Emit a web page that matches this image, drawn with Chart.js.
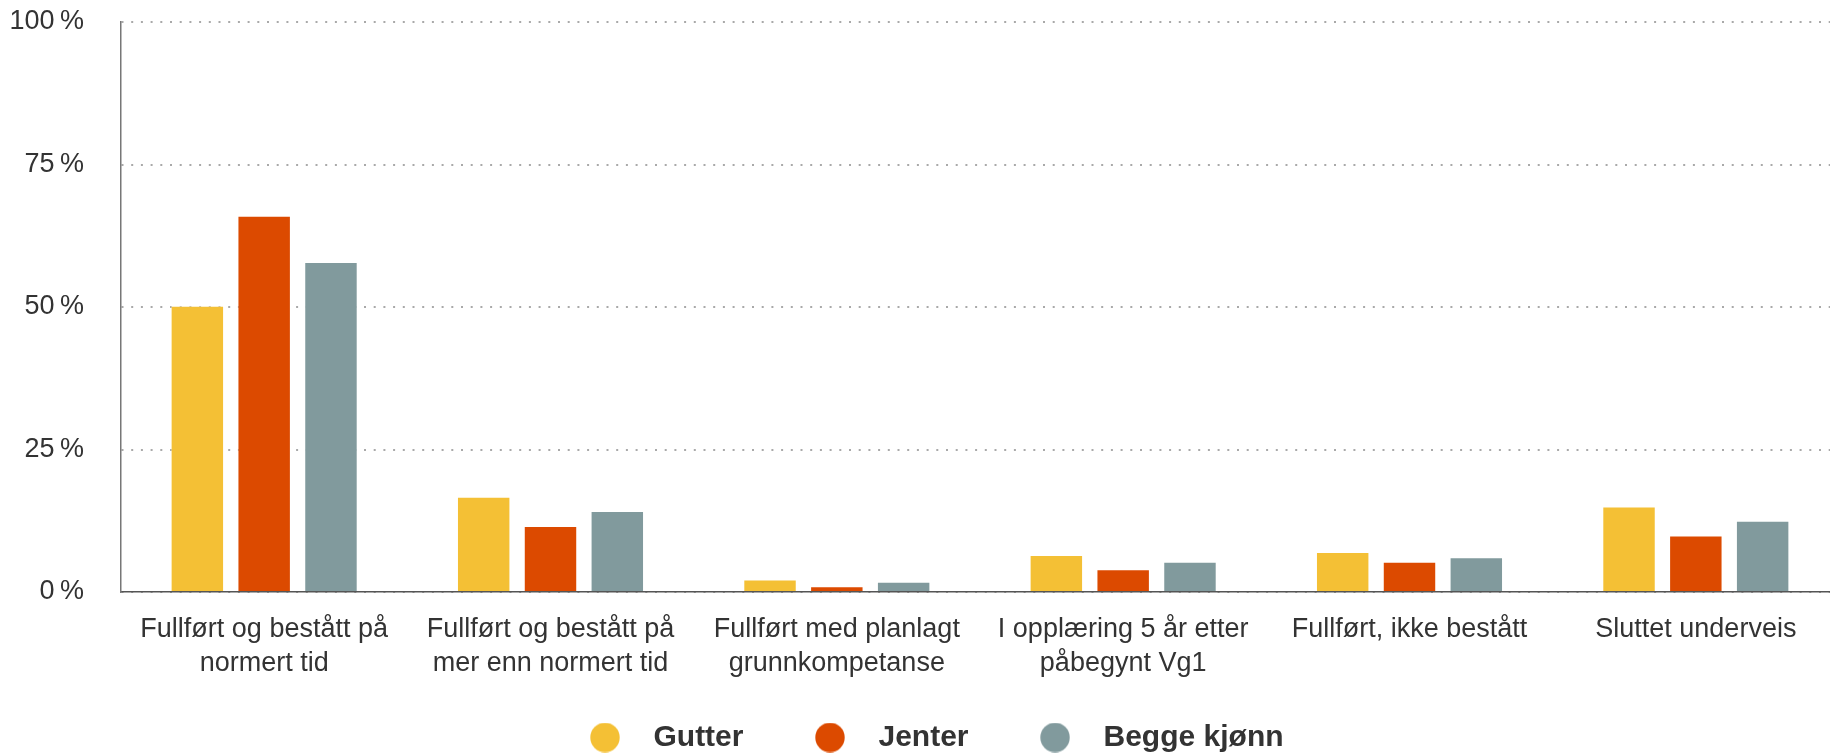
<!DOCTYPE html>
<html lang="no">
<head>
<meta charset="utf-8">
<script src="https://cdn.jsdelivr.net/npm/chart.js@4"></script>
<style>
html,body{margin:0;padding:0;background:#fff;overflow:hidden;}
#wrap{width:1854px;height:755px;position:relative;}
</style>
</head>
<body>
<div id="wrap"><canvas id="grafico"></canvas></div>
<script>
// Data
const kategorier=[["Fullført og bestått på","normert tid"],["Fullført og bestått på","mer enn normert tid"],["Fullført med planlagt","grunnkompetanse"],["I opplæring 5 år etter","påbegynt Vg1"],"Fullført, ikke bestått","Sluttet underveis"];
const gutter=[50.2,16.7,2.2,6.5,7.0,15.0];
const jenter=[66.0,11.6,1.0,4.0,5.3,9.9];
const beggeKjonn=[57.9,14.2,1.8,5.3,6.1,12.5];
const yTicks=[0,25,50,75,100];
const serieNavn=["Gutter","Jenter","Begge kjønn"];
const farger=["#f4c035","#dc4a00","#819a9d"];

// Runde legend-ikoner
function sirkel(farge){
  const c=document.createElement("canvas");
  c.width=30;c.height=30;
  const g=c.getContext("2d");
  g.fillStyle=farge;g.beginPath();g.arc(15,15,14.7,0,Math.PI*2);g.fill();
  return c;
}
const sirkler=farger.map(sirkel);

// Legenden: fast høyde i layout, flyttes litt etterpå
const legendPlass={id:"legendPlass",
  beforeLayout(chart){
    const lg=chart.legend;
    if(lg&&!lg._fast){const fit=lg.fit;lg.fit=function(){fit.call(this);this.height=67;};lg._fast=true;}
  },
  afterLayout(chart){
    const lg=chart.legend;
    lg.top=669.5;lg.height=85.5;lg.bottom=755;
    lg.left+=8;lg.right+=8;
  }
};

Chart.defaults.font.family="'Liberation Sans', Arial, Helvetica, sans-serif";
Chart.defaults.color="#333";

const datasets=[gutter,jenter,beggeKjonn].map((data,i)=>({
  label:serieNavn[i],data,backgroundColor:farger[i],
  borderColor:"rgba(255,255,255,0.45)",borderWidth:{top:1,left:1,right:1,bottom:0},borderSkipped:false,
  categoryPercentage:0.7,barPercentage:0.8
}));

new Chart(document.getElementById("grafico"),{
  type:"bar",
  data:{labels:kategorier,datasets},
  plugins:[legendPlass],
  options:{
    responsive:true,maintainAspectRatio:false,animation:false,
    layout:{padding:{top:22,right:15,left:0,bottom:0}},
    plugins:{
      tooltip:{enabled:false},
      legend:{position:"bottom",labels:{
        usePointStyle:true,pointStyleWidth:67,padding:53,color:"#333",
        font:{size:30,weight:"bold",lineHeight:1},
        generateLabels(chart){
          const items=Chart.defaults.plugins.legend.labels.generateLabels(chart);
          items.forEach((it,i)=>{it.pointStyle=sirkler[i];});
          return items;
        }
      }}
    },
    scales:{
      x:{
        grid:{drawOnChartArea:false,drawTicks:false},
        border:{display:true,color:"#555",width:1.5},
        ticks:{padding:21,color:"#333",font:{size:27,lineHeight:1.24},maxRotation:0,autoSkip:false},
        afterFit:s=>{s.height=96;}
      },
      y:{
        min:0,max:100,
        afterBuildTicks:s=>{s.ticks=yTicks.map(v=>({value:v}));},
        grid:{color:"#a9a9a9",lineWidth:2,drawTicks:false},
        border:{display:true,color:"#777",width:1.5,dash:[2,7.7]},
        ticks:{padding:37,color:"#333",font:{size:27},callback:v=>v+"\u2009%"},
        afterFit:s=>{s.width=121;s.paddingTop=0;s.paddingBottom=0;}
      }
    }
  }
});
</script>
</body>
</html>
